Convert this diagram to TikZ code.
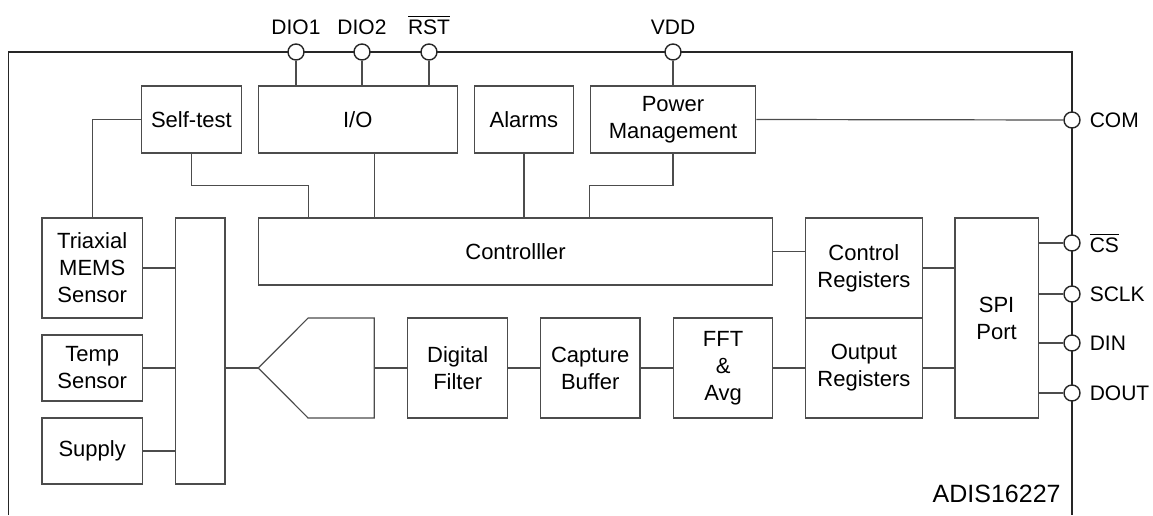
\documentclass[tikz,border=0pt]{standalone}
\usepackage{fontspec}
\setmainfont{Liberation Sans}

\tikzset{
  chipframe/.style={draw=black!85, line width=0.9pt},
  wire/.style={draw=black!70, line width=0.6pt},
  blk/.style={draw=black!70, line width=0.6pt, align=center, inner sep=1pt,
    font=\fontsize{11}{13.5}\selectfont},
  iopin/.style={circle, draw=black!85, fill=white, line width=0.7pt,
    minimum size=8pt, inner sep=0pt},
  pinlbl/.style={font=\fontsize{10.5}{12}\selectfont},
}

\begin{document}
\begin{tikzpicture}[x=0.5pt,y=-0.5pt,label distance=1pt]
  \useasboundingbox (0,0) rectangle (1153,515);
  % chip outline
  \draw[chipframe] (8.5,515) -- (8.5,52) -- (1072,52) -- (1072,515);

  % pins
  \node[iopin,label={[pinlbl]above:DIO1}] (dio1) at (296,52) {};
  \node[iopin,label={[pinlbl]above:DIO2}] (dio2) at (362,52) {};
  \node[iopin,label={[pinlbl]above:\(\overline{\mbox{RST}}\)}] (rst) at (429,52) {};
  \node[iopin,label={[pinlbl]above:VDD}] (vdd) at (673,52) {};
  \node[iopin,label={[pinlbl]right:COM}] (com) at (1072,120) {};
  \node[iopin,label={[pinlbl]right:\(\overline{\mbox{CS}}\)}] (cs) at (1072,243) {};
  \node[iopin,label={[pinlbl]right:SCLK}] (sclk) at (1072,294) {};
  \node[iopin,label={[pinlbl]right:DIN}] (din) at (1072,343) {};
  \node[iopin,label={[pinlbl]right:DOUT}] (dout) at (1072,393) {};

  % upper row
  \node[blk,minimum width=49.75pt,minimum height=33.5pt] (selftest) at (191.4,119.5) {Self-test};
  \node[blk,minimum width=99.5pt,minimum height=33.5pt] (io) at (357.8,119.5) {I/O};
  \node[blk,minimum width=49.4pt,minimum height=33.5pt] (alarms) at (523.9,119.5) {Alarms};
  \node[blk,minimum width=82.8pt,minimum height=33.5pt] (pm) at (673,119.5) {Power\\Management};

  % middle
  \node[blk,minimum width=257.25pt,minimum height=33.5pt] (ctrl) at (515.5,251.5) {Controlller};
  \node[blk,minimum width=58.2pt,minimum height=50pt] (ctlreg) at (863.9,268) {Control\\Registers};
  \node[blk,minimum width=58.2pt,minimum height=50pt] (outreg) at (863.9,368) {Output\\Registers};
  \node[blk,minimum width=41.6pt,minimum height=100pt] (spi) at (996.6,318) {SPI\\Port};

  % sensors and mux
  \node[blk,minimum width=50.15pt,minimum height=50pt] (mems) at (92.2,268) {Triaxial\\MEMS\\Sensor};
  \node[blk,minimum width=50.15pt,minimum height=33pt] (temp) at (92.2,368) {Temp\\Sensor};
  \node[blk,minimum width=50.15pt,minimum height=33pt] (supply) at (92.2,451) {Supply};
  \node[blk,minimum width=24.85pt,minimum height=133pt] (mux) at (200.1,351) {};

  % converter
  \coordinate (adctip) at (258.3,368);
  \coordinate (adctl) at (308.1,318);
  \coordinate (adctr) at (374.3,318);
  \coordinate (adcbr) at (374.3,418);
  \coordinate (adcbl) at (308.1,418);
  \coordinate (adcr) at (374.3,368);
  \draw[wire] (adctip) -- (adctl) -- (adctr) -- (adcbr) -- (adcbl) -- cycle;

  % signal chain
  \node[blk,minimum width=50.1pt,minimum height=50pt] (filter) at (457.7,368) {Digital\\Filter};
  \node[blk,minimum width=49.8pt,minimum height=50pt] (buffer) at (590.2,368) {Capture\\Buffer};
  \node[blk,minimum width=49.7pt,minimum height=50pt] (fft) at (723.1,368) {FFT\\\&\\Avg};

  \node[font=\fontsize{12.5}{14}\selectfont,anchor=base east,inner sep=0pt] (partno) at (1061,502) {ADIS16227};

  % connections
  \draw[wire] (dio1) -- (dio1 |- io.north);
  \draw[wire] (dio2) -- (dio2 |- io.north);
  \draw[wire] (rst) -- (rst |- io.north);
  \draw[wire] (vdd) -- (pm.north);
  \draw[wire] (pm.east) -- (com);
  \draw[wire] (selftest.west) -| (mems.north);
  \draw[wire] (selftest.south) -- ++(0,32) -| (adctl |- ctrl.north);
  \draw[wire] (io.south -| adcr) -- (adcr |- ctrl.north);
  \draw[wire] (alarms.south) -- (alarms.south |- ctrl.north);
  \draw[wire] (pm.south) -- ++(0,32) -| (pm.west |- ctrl.north);
  \draw[wire] (mems.east) -- (mems.east -| mux.west);
  \draw[wire] (temp.east) -- (temp.east -| mux.west);
  \draw[wire] (supply.east) -- (supply.east -| mux.west);
  \draw[wire] (temp.east -| mux.east) -- (adctip);
  \draw[wire] (adcr) -- (filter.west);
  \draw[wire] (filter) -- (buffer);
  \draw[wire] (buffer) -- (fft);
  \draw[wire] (fft) -- (outreg);
  \draw[wire] (ctrl.east) -- (ctrl.east -| ctlreg.west);
  \draw[wire] (ctlreg.east) -- (ctlreg.east -| spi.west);
  \draw[wire] (outreg.east) -- (outreg.east -| spi.west);
  \foreach \p in {cs,sclk,din,dout}
    \draw[wire] (\p -| spi.east) -- (\p);
\end{tikzpicture}
\end{document}
